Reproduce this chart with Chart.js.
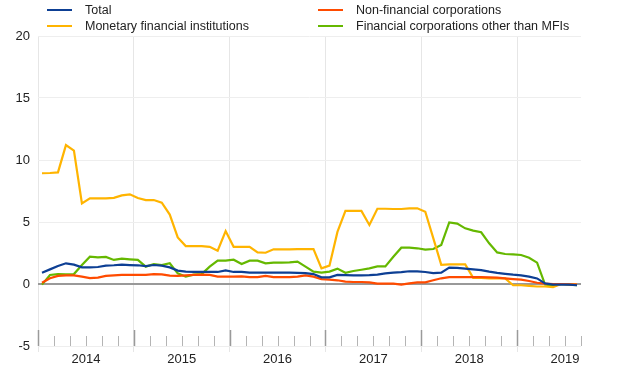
<!DOCTYPE html>
<html>
<head>
<meta charset="utf-8">
<script src="https://cdn.jsdelivr.net/npm/chart.js@4.4.1/dist/chart.umd.min.js"></script>
<style>
    body { margin: 0; background: #fff; }
    #wrap { position: relative; width: 620px; height: 387px; font-family: "Liberation Sans", Arial, sans-serif; }
    .leg { position: absolute; font-size: 12.5px; color: #222; line-height: 14px; white-space: nowrap; }
    .leg i { position: absolute; top: 6px; width: 25px; height: 2px; }
    .leg span { position: absolute; }
</style>
</head>
<body>
<div id="wrap">
    <canvas id="grafico" width="620" height="387"></canvas>
    <div id="legenda"></div>
</div>
<script>
// monthly observations, Jan 2014 - Aug 2019
const mesi = [
    '2014-01', '2014-02', '2014-03', '2014-04', '2014-05', '2014-06', '2014-07', '2014-08', '2014-09', '2014-10', '2014-11', '2014-12',
    '2015-01', '2015-02', '2015-03', '2015-04', '2015-05', '2015-06', '2015-07', '2015-08', '2015-09', '2015-10', '2015-11', '2015-12',
    '2016-01', '2016-02', '2016-03', '2016-04', '2016-05', '2016-06', '2016-07', '2016-08', '2016-09', '2016-10', '2016-11', '2016-12',
    '2017-01', '2017-02', '2017-03', '2017-04', '2017-05', '2017-06', '2017-07', '2017-08', '2017-09', '2017-10', '2017-11', '2017-12',
    '2018-01', '2018-02', '2018-03', '2018-04', '2018-05', '2018-06', '2018-07', '2018-08', '2018-09', '2018-10', '2018-11', '2018-12',
    '2019-01', '2019-02', '2019-03', '2019-04', '2019-05', '2019-06', '2019-07', '2019-08'
]
const anni = ['2014', '2015', '2016', '2017', '2018', '2019']

const totale = [
    0.91, 1.18, 1.45, 1.67, 1.56, 1.34, 1.34, 1.37, 1.48, 1.51, 1.56, 1.53,
    1.51, 1.45, 1.53, 1.48, 1.34, 1.08, 1.0, 0.97, 0.97, 0.97, 0.97, 1.1,
    0.97, 0.97, 0.92, 0.92, 0.91, 0.91, 0.91, 0.91, 0.9, 0.88, 0.8, 0.54,
    0.54, 0.73, 0.72, 0.7, 0.7, 0.72, 0.76, 0.85, 0.91, 0.96, 1.03, 1.02,
    0.97, 0.88, 0.91, 1.32, 1.3, 1.24, 1.18, 1.12, 1.0, 0.9, 0.82, 0.75,
    0.7, 0.6, 0.45, 0.05, -0.05, -0.05, -0.05, -0.1
]
const nonFinanziarie = [
    0.1, 0.46, 0.65, 0.7, 0.7, 0.59, 0.48, 0.51, 0.65, 0.7, 0.73, 0.73,
    0.73, 0.73, 0.8, 0.78, 0.67, 0.65, 0.7, 0.73, 0.75, 0.73, 0.59, 0.59,
    0.59, 0.62, 0.56, 0.56, 0.65, 0.56, 0.56, 0.56, 0.59, 0.7, 0.59, 0.4,
    0.35, 0.3, 0.19, 0.16, 0.16, 0.13, 0.03, 0.03, 0.03, -0.05, 0.05, 0.13,
    0.13, 0.3, 0.46, 0.56, 0.56, 0.55, 0.55, 0.55, 0.54, 0.52, 0.46, 0.4,
    0.35, 0.24, 0.1, 0.03, 0.0, 0.0, -0.03, -0.05
]
const mfi = [
    8.93, 8.95, 9.0, 11.2, 10.75, 6.5, 6.9, 6.9, 6.9, 6.95, 7.15, 7.23,
    6.93, 6.77, 6.77, 6.56, 5.6, 3.76, 3.06, 3.06, 3.06, 3.0, 2.69, 4.27,
    3.0, 3.0, 3.0, 2.55, 2.52, 2.8, 2.8, 2.8, 2.82, 2.82, 2.82, 1.26,
    1.48, 4.2, 5.89, 5.89, 5.89, 4.76, 6.07, 6.07, 6.05, 6.05, 6.1, 6.1,
    5.83, 3.7, 1.55, 1.58, 1.58, 1.58, 0.5, 0.5, 0.46, 0.46, 0.46, -0.1,
    -0.1, -0.15, -0.2, -0.2, -0.25, 0.0, 0.0, -0.05
]
const altreFinanziarie = [
    -0.05, 0.73, 0.8, 0.78, 0.8, 1.53, 2.2, 2.15, 2.18, 1.94, 2.04, 1.99,
    1.94, 1.4, 1.61, 1.53, 1.67, 0.86, 0.59, 0.75, 0.8, 1.4, 1.88, 1.88,
    1.96, 1.61, 1.88, 1.88, 1.67, 1.72, 1.72, 1.75, 1.8, 1.4, 1.0, 0.92,
    1.0, 1.24, 0.9, 1.05, 1.15, 1.26, 1.42, 1.42, 2.2, 2.93, 2.93, 2.88,
    2.77, 2.82, 3.15, 4.97, 4.87, 4.49, 4.3, 4.17, 3.28, 2.55, 2.42, 2.39,
    2.34, 2.12, 1.72, -0.05, -0.14, 0.0, -0.05, -0.1
]

const serie = [
    { label: 'Total', data: totale, color: '#0d3f94', x: 47, y: 3 },
    { label: 'Non-financial corporations', data: nonFinanziarie, color: '#ff4b00', x: 318, y: 3 },
    { label: 'Monetary financial institutions', data: mfi, color: '#ffb400', x: 47, y: 19 },
    { label: 'Financial corporations other than MFIs', data: altreFinanziarie, color: '#65b800', x: 318, y: 19 },
]

// points sit in the middle of their month, x axis counts months from Jan 2014
function punti(valori) {
    return valori.map((v, i) => ({ x: i + 0.5, y: v }))
}

for (s of serie) {
    document.getElementById('legenda').insertAdjacentHTML('beforeend', `
        <div class="leg" style="left:${s.x}px;top:${s.y}px">
            <i style="left:0;background:${s.color}"></i><span style="left:38px">${s.label}</span>
        </div>`)
}

const tacche = {
    id: 'tacche',
    afterDatasetsDraw(chart) {
        const ctx = chart.ctx
        const x = chart.scales.x
        const fondo = chart.chartArea.bottom
        ctx.save()
        x.ticks.forEach(t => {
            let px = Math.round(x.getPixelForValue(t.value)) + 0.5
            let anno = t.value % 12 == 0
            ctx.strokeStyle = anno ? '#9a9a9a' : '#b4b4b4'
            ctx.lineWidth = anno ? 1.5 : 1
            ctx.beginPath()
            ctx.moveTo(px, fondo)
            ctx.lineTo(px, fondo - (anno ? 16 : 10))
            ctx.stroke()
        })
        ctx.restore()
    }
}

Chart.defaults.font.family = '"Liberation Sans", Arial, sans-serif'
Chart.defaults.color = '#222'

new Chart(document.getElementById('grafico'), {
    type: 'line',
    data: {
        datasets: serie.map(s => ({
            label: s.label,
            data: punti(s.data),
            borderColor: s.color,
            borderWidth: 2.2,
            pointRadius: 0,
            tension: 0,
            fill: false,
        }))
    },
    options: {
        responsive: false,
        animation: false,
        devicePixelRatio: 1,
        layout: { padding: { top: 36, right: 39, left: 0, bottom: 0 } },
        plugins: { legend: { display: false }, tooltip: { enabled: false } },
        scales: {
            x: {
                type: 'linear',
                min: 0,
                max: mesi.length,
                afterFit: s => { s.height = 41 },
                border: { display: false },
                grid: {
                    color: c => c.tick && c.tick.value % 12 == 0 ? '#e6e6e6' : 'rgba(0,0,0,0)',
                    tickLength: 6,
                },
                ticks: {
                    stepSize: 2,
                    autoSkip: false,
                    maxRotation: 0,
                    padding: 0,
                    font: { size: 13 },
                    callback: v => (v - 6) % 12 == 0 ? anni[(v - 6) / 12] : '',
                }
            },
            y: {
                min: -5,
                max: 20,
                afterFit: s => { s.width = 38 },
                border: { display: false },
                grid: {
                    drawTicks: false,
                    color: c => c.tick && c.tick.value == 0 ? '#999999' : '#eeeeee',
                    lineWidth: c => c.tick && c.tick.value == 0 ? 2 : 1,
                },
                ticks: { stepSize: 5, padding: 8, font: { size: 13 } }
            }
        }
    },
    plugins: [tacche]
})
</script>
</body>
</html>
